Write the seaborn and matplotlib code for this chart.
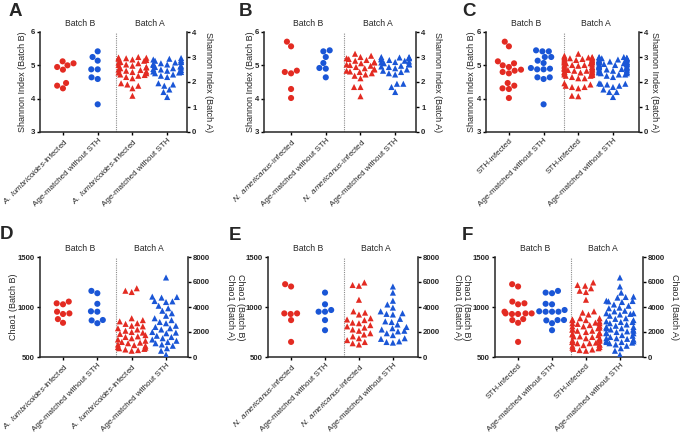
import numpy as np
import pandas as pd
import matplotlib
matplotlib.use("Agg")
import matplotlib.pyplot as plt
import seaborn as sns
import warnings
warnings.filterwarnings("ignore")

sns.set_theme(style="ticks")
plt.rcParams['font.family'] = ['Liberation Sans', 'DejaVu Sans']
plt.rcParams['mathtext.fontset'] = 'custom'
plt.rcParams['mathtext.it'] = 'Liberation Sans:italic'
plt.rcParams['mathtext.rm'] = 'Liberation Sans'

RED = '#e32b22'
BLUE = '#1a56d6'

# ---------------- data ----------------
# Panel A: A. lumbricoides
shannon_A_inf_B = [5.06, 5.12, 4.95, 4.87, 5.00, 4.47, 4.31, 4.39]
shannon_A_ctl_B = [5.42, 5.25, 5.14, 4.88, 4.88, 4.64, 4.59, 3.83]
shannon_A_inf_A = [3.00, 2.98, 2.97, 2.95, 2.93, 2.90, 2.88, 2.85, 2.80, 2.78, 2.75, 2.70,
                   2.68, 2.65, 2.60, 2.58, 2.55, 2.50, 2.48, 2.45, 2.42, 2.40, 2.38, 2.35,
                   2.30, 2.28, 2.25, 2.20, 2.15, 1.95, 1.90, 1.85, 1.75, 1.45]
shannon_A_ctl_A = [2.96, 2.93, 2.90, 2.88, 2.85, 2.82, 2.80, 2.78, 2.75, 2.72, 2.70, 2.68,
                   2.65, 2.62, 2.60, 2.58, 2.55, 2.52, 2.50, 2.48, 2.45, 2.42, 2.40, 2.38,
                   2.35, 2.30, 2.25, 2.20, 1.95, 1.90, 1.85, 1.70, 1.60, 1.40]
# Panel B: N. americanus
shannon_N_inf_B = [5.71, 5.57, 4.84, 4.76, 4.80, 4.29, 4.02]
shannon_N_ctl_B = [5.45, 5.42, 5.25, 5.07, 4.92, 4.90, 4.64]
shannon_N_inf_A = [3.13, 3.05, 3.00, 2.95, 2.92, 2.88, 2.85, 2.80, 2.78, 2.75, 2.70, 2.68,
                   2.65, 2.60, 2.55, 2.52, 2.50, 2.45, 2.42, 2.40, 2.35, 2.30, 2.25, 2.15,
                   1.80, 1.80, 1.43]
shannon_N_ctl_A = [3.00, 3.00, 2.98, 2.97, 2.95, 2.93, 2.90, 2.88, 2.85, 2.82, 2.80, 2.78,
                   2.75, 2.72, 2.70, 2.65, 2.62, 2.60, 2.55, 2.50, 2.45, 2.40, 2.35, 2.30,
                   1.93, 1.93, 1.80, 1.60]
# Panel C: all STH
shannon_S_inf_B = [5.06, 5.12, 4.95, 4.87, 5.00, 4.47, 4.31, 4.39,
                   5.71, 5.57, 4.84, 4.76, 4.80, 4.29, 4.02]
shannon_S_ctl_B = [5.42, 5.25, 5.14, 4.88, 4.88, 4.64, 4.59, 3.83,
                   5.45, 5.42, 5.25, 5.07, 4.92, 4.90, 4.64]
shannon_S_inf_A = [3.00, 2.98, 2.97, 2.95, 2.93, 2.90, 2.88, 2.85, 2.80, 2.78, 2.75, 2.70,
                   2.68, 2.65, 2.60, 2.58, 2.55, 2.50, 2.48, 2.45, 2.42, 2.40, 2.38, 2.35,
                   2.30, 2.28, 2.25, 2.20, 2.15, 1.95, 1.90, 1.85, 1.75, 1.45,
                   3.13, 3.05, 3.00, 2.95, 2.92, 2.88, 2.85, 2.80, 2.78, 2.75, 2.70, 2.68,
                   2.65, 2.60, 2.55, 2.52, 2.50, 2.45, 2.42, 2.40, 2.35, 2.30, 2.25, 2.15,
                   1.80, 1.80, 1.43]
shannon_S_ctl_A = [2.96, 2.93, 2.90, 2.88, 2.85, 2.82, 2.80, 2.78, 2.75, 2.72, 2.70, 2.68,
                   2.65, 2.62, 2.60, 2.58, 2.55, 2.52, 2.50, 2.48, 2.45, 2.42, 2.40, 2.38,
                   2.35, 2.30, 2.25, 2.20, 1.95, 1.90, 1.85, 1.70, 1.60, 1.40,
                   3.00, 3.00, 2.98, 2.97, 2.95, 2.93, 2.90, 2.88, 2.85, 2.82, 2.80, 2.78,
                   2.75, 2.72, 2.70, 2.65, 2.62, 2.60, 2.55, 2.50, 2.45, 2.40, 2.35, 2.30,
                   1.93, 1.93, 1.80, 1.60]

# Panel D: Chao1, A. lumbricoides
chao_A_inf_B = [1054, 1027, 1037, 936, 930, 953, 842, 879]
chao_A_ctl_B = [1161, 1138, 1032, 957, 953, 870, 838, 866]
chao_A_inf_A = [5500, 5300, 5200, 3100, 2950, 2850, 2700, 2650, 2500, 2450, 2300, 2200,
                2100, 2000, 1950, 1850, 1750, 1650, 1600, 1500, 1400, 1300, 1200, 1150,
                1100, 1000, 950, 900, 800, 750, 700, 650, 600, 550, 500]
chao_A_ctl_A = [6360, 4830, 4750, 4800, 4480, 4400, 4450, 4100, 3900, 3700, 3500, 3300,
                3100, 2950, 2800, 2700, 2500, 2400, 2300, 2200, 2000, 1950, 1900, 1700,
                1600, 1500, 1400, 1300, 1200, 1100, 1000, 900, 700, 500, 190]
# Panel E: Chao1, N. americanus
chao_N_inf_B = [1228, 1205, 936, 930, 936, 869, 651]
chao_N_ctl_B = [1144, 1027, 970, 953, 953, 869, 768]
chao_N_inf_A = [5960, 5700, 5760, 4580, 3650, 3550, 3400, 3100, 3000, 2950, 2750, 2700,
                2550, 2450, 2350, 2200, 2100, 1900, 1800, 1650, 1500, 1350, 1200, 1100, 1000]
chao_N_ctl_A = [5640, 5150, 4500, 4200, 3950, 3650, 3500, 3450, 3400, 3050, 2850, 2800,
                2600, 2400, 2300, 2200, 2100, 2050, 1900, 1750, 1500, 1450, 1250, 1200, 1150]
# Panel F: Chao1, all STH
chao_S_inf_B = [1054, 1027, 1037, 936, 930, 953, 842, 879,
                1228, 1205, 936, 930, 936, 869, 651]
chao_S_ctl_B = [1161, 1138, 1032, 957, 953, 870, 838, 866,
                1144, 1027, 970, 953, 953, 869, 768]
chao_S_inf_A = [5500, 5300, 5200, 3100, 2950, 2850, 2700, 2650, 2500, 2450, 2300, 2200,
                2100, 2000, 1950, 1850, 1750, 1650, 1600, 1500, 1400, 1300, 1200, 1150,
                1100, 1000, 950, 900, 800, 750, 700, 650, 600, 550, 500,
                5960, 5700, 5760, 4580, 3650, 3550, 3400, 3100, 3000, 2950, 2750, 2700,
                2550, 2450, 2350, 2200, 2100, 1900, 1800, 1650, 1500, 1350, 1200, 1100, 1000]
chao_S_ctl_A = [6360, 4830, 4750, 4800, 4480, 4400, 4450, 4100, 3900, 3700, 3500, 3300,
                3100, 2950, 2800, 2700, 2500, 2400, 2300, 2200, 2000, 1950, 1900, 1700,
                1600, 1500, 1400, 1300, 1200, 1100, 1000, 900, 700, 500, 190,
                5640, 5150, 4500, 4200, 3950, 3650, 3500, 3450, 3400, 3050, 2850, 2800,
                2600, 2400, 2300, 2200, 2100, 2050, 1900, 1750, 1500, 1450, 1250, 1200, 1150]

label_A = r"$\it{A.\ lumbricoides}$-infected"
label_N = r"$\it{N.\ americanus}$-infected"
label_S = "STH-infected"
label_ctl = "Age-matched without STH"

shannon_left_ticks = [3, 4, 5, 6]
shannon_right_ticks = [0, 1, 2, 3, 4]
chao_left_ticks = [500, 1000, 1500]
chao_right_ticks = [0, 2000, 4000, 6000, 8000]

cats = ["B_inf", "B_ctl", "A_inf", "A_ctl"]

# ---------------- figure ----------------
W, H = 680, 433
fig = plt.figure(figsize=(W / 100, H / 100), dpi=100)

def px_axes(left, right, top, bottom):
    return fig.add_axes([left / W, 1 - bottom / H, (right - left) / W, (bottom - top) / H])

panels = [
    dict(letter="A", b=(shannon_A_inf_B, shannon_A_ctl_B), a=(shannon_A_inf_A, shannon_A_ctl_A),
         inf=label_A, lt=shannon_left_ticks, rt=shannon_right_ticks,
         box=(40, 187, 32, 132), xlim=(-0.66, 3.57), div=1.53, lpos=(9, 3)),
    dict(letter="B", b=(shannon_N_inf_B, shannon_N_ctl_B), a=(shannon_N_inf_A, shannon_N_ctl_A),
         inf=label_N, lt=shannon_left_ticks, rt=shannon_right_ticks,
         box=(264, 416, 32, 132), xlim=(-0.78, 3.6), div=1.53, lpos=(239, 3)),
    dict(letter="C", b=(shannon_S_inf_B, shannon_S_ctl_B), a=(shannon_S_inf_A, shannon_S_ctl_A),
         inf=label_S, lt=shannon_left_ticks, rt=shannon_right_ticks,
         box=(486, 639, 32, 132), xlim=(-0.66, 3.75), div=1.58, lpos=(462, 3)),
    dict(letter="D", b=(chao_A_inf_B, chao_A_ctl_B), a=(chao_A_inf_A, chao_A_ctl_A),
         inf=label_A, lt=chao_left_ticks, rt=chao_right_ticks,
         box=(40, 188, 257, 357), xlim=(-0.67, 3.64), div=1.53, lpos=(0, 226)),
    dict(letter="E", b=(chao_N_inf_B, chao_N_ctl_B), a=(chao_N_inf_A, chao_N_ctl_A),
         inf=label_N, lt=chao_left_ticks, rt=chao_right_ticks,
         box=(268, 418, 257, 357), xlim=(-0.68, 3.74), div=1.56, lpos=(229, 227)),
    dict(letter="F", b=(chao_S_inf_B, chao_S_ctl_B), a=(chao_S_inf_A, chao_S_ctl_A),
         inf=label_S, lt=chao_left_ticks, rt=chao_right_ticks,
         box=(495, 643, 257, 357), xlim=(-0.68, 3.68), div=1.56, lpos=(462, 227)),
]

for p in panels:
    left, right, top, bottom = p["box"]
    ax = px_axes(left, right, top, bottom)
    ax2 = ax.twinx()

    dfb = pd.DataFrame({
        "cat": ["B_inf"] * len(p["b"][0]) + ["B_ctl"] * len(p["b"][1]),
        "val": list(p["b"][0]) + list(p["b"][1]),
    })
    dfa = pd.DataFrame({
        "cat": ["A_inf"] * len(p["a"][0]) + ["A_ctl"] * len(p["a"][1]),
        "val": list(p["a"][0]) + list(p["a"][1]),
    })
    pal = {"B_inf": RED, "B_ctl": BLUE, "A_inf": RED, "A_ctl": BLUE}

    sns.swarmplot(data=dfb, x="cat", y="val", hue="cat", order=cats, palette=pal,
                  marker="o", size=4.4, linewidth=0, legend=False, ax=ax, warn_thresh=1)
    sns.swarmplot(data=dfa, x="cat", y="val", hue="cat", order=cats, palette=pal,
                  marker="^", size=4.4, linewidth=0, legend=False, ax=ax2, warn_thresh=1)

    lt, rt = p["lt"], p["rt"]
    ax.set_ylim(lt[0], lt[-1])
    ax2.set_ylim(rt[0], rt[-1])
    ax.set_yticks(lt)
    ax2.set_yticks(rt)
    ax.set_xlim(*p["xlim"])
    ax.set_xticks(range(4))
    ax.set_xticklabels([p["inf"], label_ctl, p["inf"], label_ctl],
                       rotation=45, ha='right', rotation_mode='anchor', fontsize=5.8)
    ax.set_xlabel("")
    ax.set_ylabel("")
    ax2.set_ylabel("")
    for lab in ax.get_yticklabels() + ax2.get_yticklabels():
        lab.set_fontsize(5.6)
        lab.set_fontweight('bold')

    ax.axvline(p["div"], color='0.55', lw=0.8, ls=(0, (1, 1)), zorder=0)

    for s in ["top", "right"]:
        ax.spines[s].set_visible(False)
    for s in ["top", "left", "bottom"]:
        ax2.spines[s].set_visible(False)
    for a in (ax, ax2):
        for s in a.spines.values():
            s.set_linewidth(1.1)
        a.tick_params(width=1.0, length=2.5, pad=1.2, color='black')
    ax.patch.set_visible(False)

    ax.text(0.5, 1.04, "Batch B", transform=ax.get_xaxis_transform(),
            ha='center', va='bottom', fontsize=6.2)
    ax.text(2.5, 1.04, "Batch A", transform=ax.get_xaxis_transform(),
            ha='center', va='bottom', fontsize=6.2)

    lx, ly = p["lpos"]
    fig.text(lx / W, 1 - ly / H, p["letter"], fontsize=13.5, fontweight='heavy',
             ha='left', va='top')

# axis labels (positions in px)
ycen_top = 82 / H
ycen_bot = 307 / H
lab_kw = dict(fontsize=6.5, ha='center', va='center')
for x in (23, 250, 471):
    fig.text(x / W, 1 - ycen_top, "Shannon Index (Batch B)", rotation=90, **lab_kw)
for x in (208, 437, 655):
    fig.text(x / W, 1 - ycen_top, "Shannon Index (Batch A)", rotation=270, **lab_kw)
fig.text(13 / W, 1 - ycen_bot, "Chao1 (Batch B)", rotation=90, **lab_kw)
for x in (240, 467):
    fig.text(x / W, 1 - ycen_bot, "Chao1 (Batch B)", rotation=270, **lab_kw)
for x in (230, 457, 674):
    fig.text(x / W, 1 - ycen_bot, "Chao1 (Batch A)", rotation=270, **lab_kw)

fig.savefig("out.png", dpi=100)
